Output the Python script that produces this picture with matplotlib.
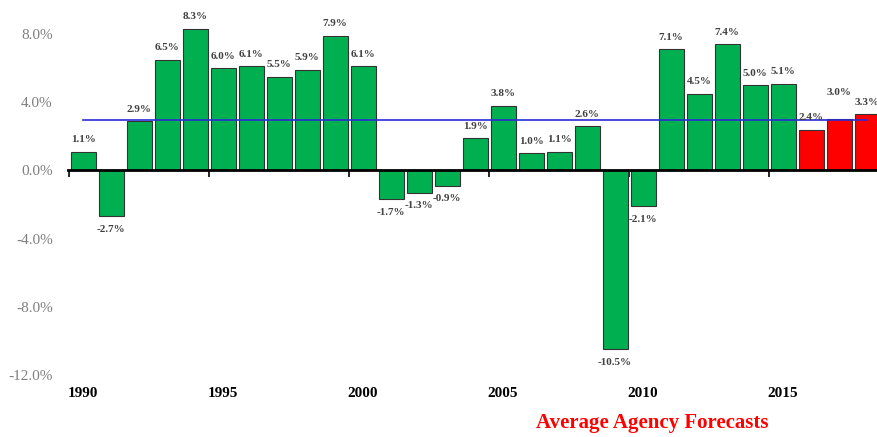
import matplotlib.pyplot as plt
from matplotlib.ticker import FuncFormatter
import matplotlib.transforms as mtransforms

# 数据
years = list(range(1990, 2019))
growth = [1.1, -2.7, 2.9, 6.5, 8.3, 6.0, 6.1, 5.5, 5.9, 7.9,
          6.1, -1.7, -1.3, -0.9, 1.9, 3.8, 1.0, 1.1, 2.6, -10.5,
          -2.1, 7.1, 4.5, 7.4, 5.0, 5.1, 2.4, 3.0, 3.3]
forecast_years = [2016, 2017, 2018]
average_growth = 2.95
label_years = [1990, 1995, 2000, 2005, 2010, 2015]
y_ticks = [-12, -8, -4, 0, 4, 8]

plt.rcParams['font.family'] = ['Liberation Serif', 'DejaVu Serif']

fig = plt.figure(figsize=(8.78, 4.37), dpi=100)
ax = fig.add_axes([68 / 878, 62 / 437, 810 / 878, 375 / 437])

colors = ['#FF0000' if y in forecast_years else '#00B050' for y in years]
ax.bar(years, growth, width=0.89, color=colors, edgecolor='#333333', linewidth=0.8, zorder=2)

# 平均线
ax.plot([years[0], years[-1]], [average_growth, average_growth], color='#2B2BD6', linewidth=1.2, zorder=3)

# 数值标签
for y, v in zip(years, growth):
    if v >= 0:
        off = 12 if y != 2017 else 27
        ax.annotate(f"{v:.1f}%", (y, v), xytext=(0, off), textcoords='offset pixels',
                    ha='center', va='center', fontsize=8, fontweight='bold', color='#404040', zorder=4)
    else:
        ax.annotate(f"{v:.1f}%", (y, v), xytext=(0, -13), textcoords='offset pixels',
                    ha='center', va='center', fontsize=8, fontweight='bold', color='#404040', zorder=4)

ax.set_xlim(1989.46, 2018.39)
ax.set_ylim(-12, 10)

for s in ['left', 'top', 'right']:
    ax.spines[s].set_visible(False)
ax.spines['bottom'].set_position(('data', 0))
ax.spines['bottom'].set_linewidth(2)
ax.spines['bottom'].set_zorder(5)

ax.set_xticks([x + 0.5 for x in range(1989, 2019, 5)])
ax.set_xticklabels([])
ax.tick_params(axis='x', direction='out', length=5, width=1.2, color='black')

ax.set_yticks(y_ticks)
ax.yaxis.set_major_formatter(FuncFormatter(lambda v, p: f"{v:.1f}%"))
ax.tick_params(axis='y', length=0, pad=11, labelsize=11, labelcolor='#7F7F7F')

# 年份标签
trans = mtransforms.blended_transform_factory(ax.transData, ax.transAxes)
for y in label_years:
    ax.text(y, -0.05, str(y), transform=trans, ha='center', va='center',
            fontsize=11, fontweight='bold', color='black')

fig.text(652 / 878, 1 - 423 / 437, "Average Agency Forecasts", ha='center', va='center',
         fontsize=15, fontweight='bold', color='#FF0000')

fig.savefig("out.png", dpi=100)
plt.close(fig)
